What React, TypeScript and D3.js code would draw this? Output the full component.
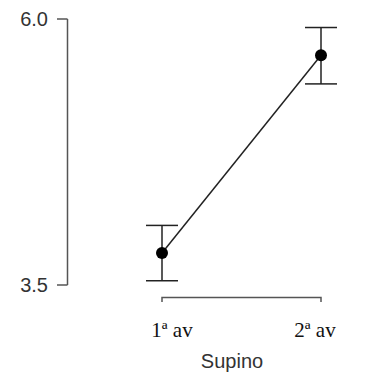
import React, { useEffect, useRef } from 'react';
import * as d3 from 'd3';

const categories = ['1ª av', '2ª av'];
const means = [3.8, 5.66];
const lower = [3.54, 5.39];
const upper = [4.06, 5.92];
const yTicks = [3.5, 6.0];

const App = () => {
  const svgRef = useRef<SVGSVGElement>(null);

  useEffect(() => {
    const svg = d3.select(svgRef.current);
    svg.selectAll('*').remove();

    const x = d3.scalePoint().domain(categories).range([162, 321]);
    const y = d3.scaleLinear().domain([3.5, 6.0]).range([285, 19]);

    // y axis
    svg.append('line')
      .attr('x1', 67.5).attr('x2', 67.5)
      .attr('y1', y(6.0)).attr('y2', y(3.5))
      .attr('stroke', '#555').attr('stroke-width', 1.5);
    svg.selectAll('line.ytick')
      .data(yTicks)
      .enter()
      .append('line')
      .attr('class', 'ytick')
      .attr('x1', 57).attr('x2', 67.5)
      .attr('y1', d => y(d)).attr('y2', d => y(d))
      .attr('stroke', '#555').attr('stroke-width', 1.5);
    svg.selectAll('text.ylab')
      .data(yTicks)
      .enter()
      .append('text')
      .attr('class', 'ylab')
      .attr('x', 48)
      .attr('y', d => y(d) + 7)
      .attr('text-anchor', 'end')
      .attr('font-family', 'Liberation Sans, Arial, sans-serif')
      .attr('font-size', '20px')
      .attr('fill', '#333')
      .text(d => d.toFixed(1));

    // x axis bracket
    const x0 = x(categories[0])!, x1 = x(categories[1])!;
    svg.append('path')
      .attr('d', `M${x0},302V297.5H${x1}V302`)
      .attr('fill', 'none')
      .attr('stroke', '#555').attr('stroke-width', 1.5);
    svg.selectAll('text.xlab')
      .data(categories)
      .enter()
      .append('text')
      .attr('class', 'xlab')
      .attr('x', d => x(d)! + (d === categories[0] ? 10 : -6))
      .attr('y', 337)
      .attr('text-anchor', 'middle')
      .attr('font-family', 'Liberation Serif, Times New Roman, serif')
      .attr('font-size', '21px')
      .attr('fill', '#111')
      .text(d => d);
    svg.append('text')
      .attr('x', 232).attr('y', 368)
      .attr('text-anchor', 'middle')
      .attr('font-family', 'Liberation Sans, Arial, sans-serif')
      .attr('font-size', '20px')
      .attr('fill', '#333')
      .text('Supino');

    const data = categories.map((c, i) => ({ c, m: means[i], lo: lower[i], hi: upper[i] }));

    // connecting line
    const line = d3.line<{ c: string; m: number }>().x(d => x(d.c)!).y(d => y(d.m));
    svg.append('path')
      .attr('d', line(data))
      .attr('fill', 'none')
      .attr('stroke', '#222').attr('stroke-width', 1.5);

    // error bars
    const g = svg.selectAll('g.err').data(data).enter().append('g').attr('class', 'err');
    g.append('line')
      .attr('x1', d => x(d.c)!).attr('x2', d => x(d.c)!)
      .attr('y1', d => y(d.lo)).attr('y2', d => y(d.hi))
      .attr('stroke', '#222').attr('stroke-width', 1.5);
    g.append('line')
      .attr('x1', d => x(d.c)! - 16).attr('x2', d => x(d.c)! + 16)
      .attr('y1', d => y(d.lo)).attr('y2', d => y(d.lo))
      .attr('stroke', '#222').attr('stroke-width', 1.5);
    g.append('line')
      .attr('x1', d => x(d.c)! - 16).attr('x2', d => x(d.c)! + 16)
      .attr('y1', d => y(d.hi)).attr('y2', d => y(d.hi))
      .attr('stroke', '#222').attr('stroke-width', 1.5);
    g.append('circle')
      .attr('cx', d => x(d.c)!).attr('cy', d => y(d.m))
      .attr('r', 6)
      .attr('fill', '#000');
  }, []);

  return (
    <svg ref={svgRef} width={366} height={378}
      style={{ position: 'absolute', left: 0, top: 0, background: '#fff' }} />
  );
};

export default App;
